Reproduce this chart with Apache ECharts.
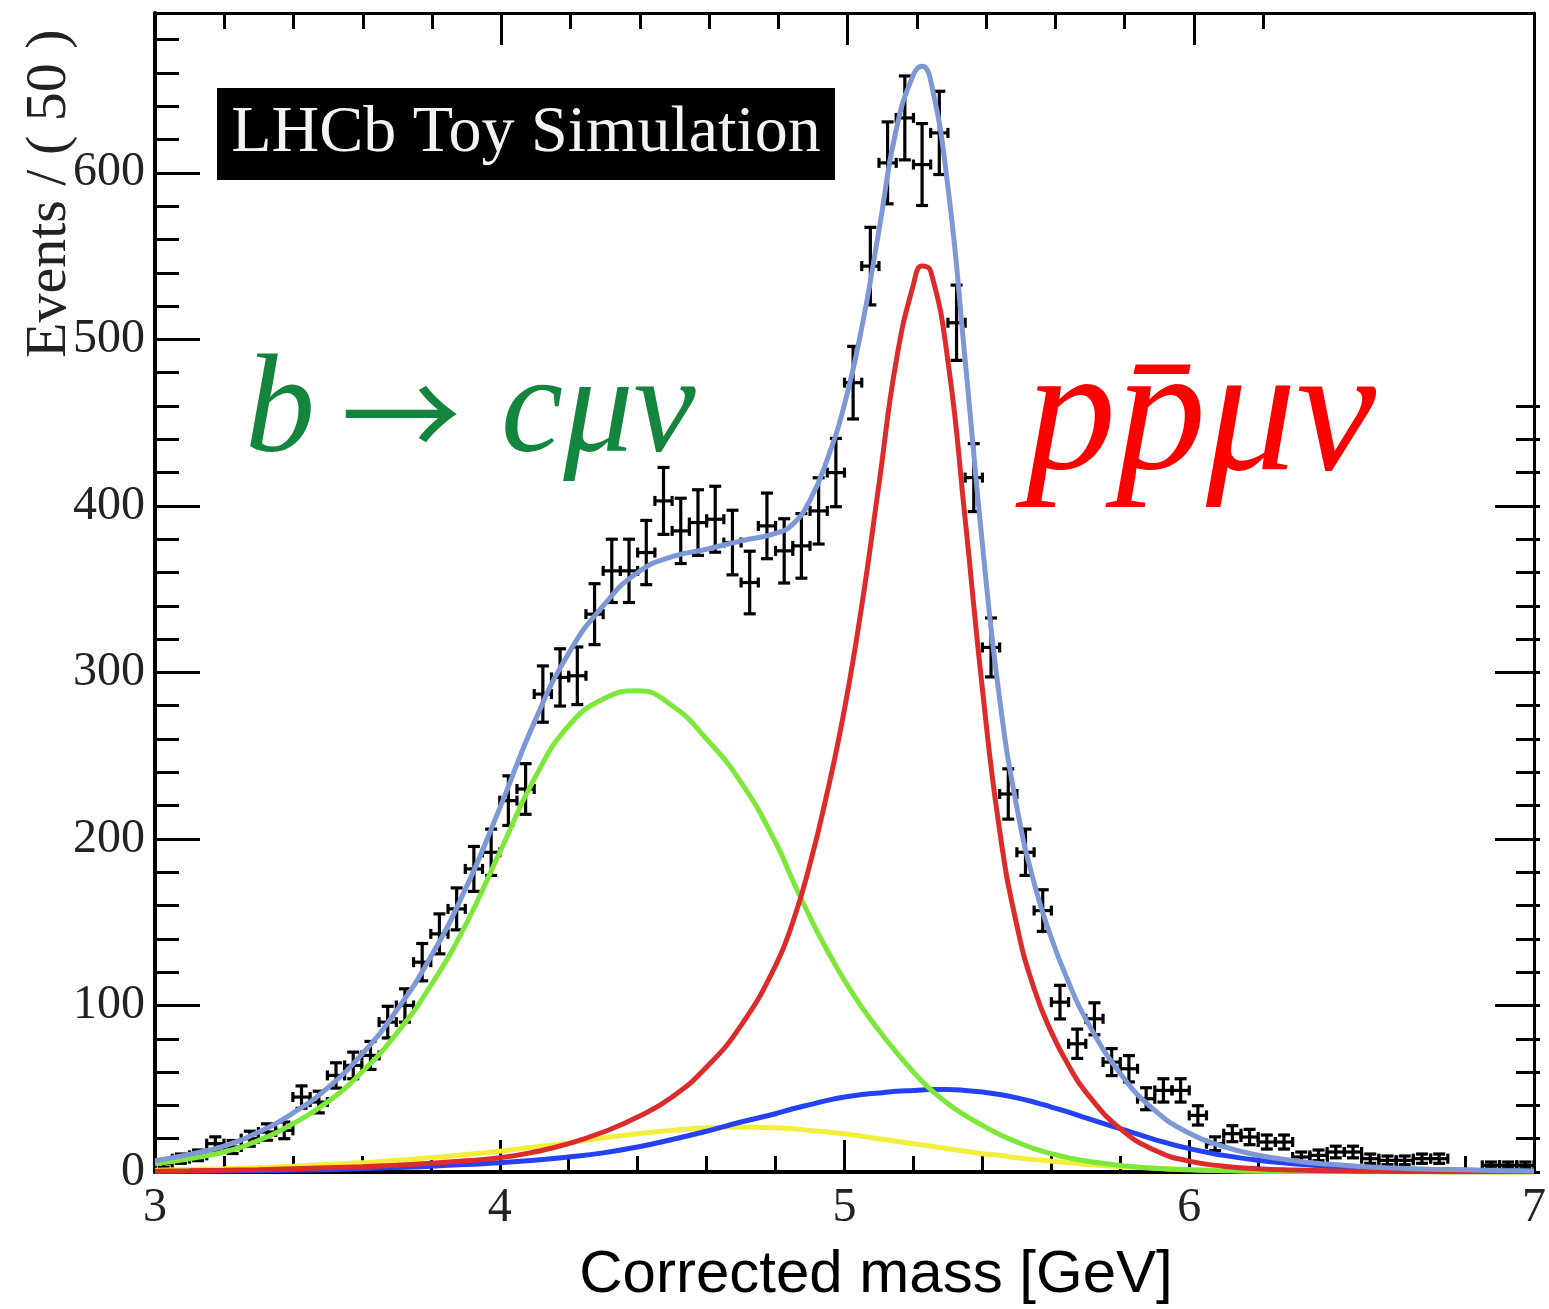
<!DOCTYPE html>
<html><head><meta charset="utf-8">
<script src="https://cdn.jsdelivr.net/npm/echarts@6.0.0/dist/echarts.min.js"></script>
<style>html,body{margin:0;padding:0;background:#fff;overflow:hidden}#c{width:1549px;height:1309px}</style>
</head><body><div id="c"></div>
<script>
// ---- histogram (80 bins of 50 MeV from 3 to 7 GeV) ----
const binLow = 3.0;
const binWidth = 0.05;
const counts = [
  5, 8, 10, 17, 15, 20, 24, 25, 45, 42,
  58, 64, 70, 90, 100, 126, 143, 158, 182, 192,
  223, 230, 287, 297, 298, 335, 361, 361, 372, 403,
  385, 390, 392, 378, 354, 388, 373, 376, 397, 420,
  474, 544, 606, 633, 605, 624, 510, 417, 315, 227,
  192, 157, 102, 77, 92, 66, 62, 44, 49, 49,
  34, 17, 23, 21, 18, 18, 9, 10, 12, 12,
  8, 7, 7, 8, 8, null, null, 4, 4, 4
];
const countErr = [
  2.2, 2.8, 3.2, 4.1, 3.9, 4.5, 4.9, 5.0, 6.7, 6.5,
  7.6, 8.0, 8.4, 9.5, 10.0, 11.2, 12.0, 12.6, 13.5, 13.9,
  14.9, 15.2, 16.9, 17.2, 17.3, 18.3, 19.0, 19.0, 19.3, 20.1,
  19.6, 19.7, 19.8, 19.4, 18.8, 19.7, 19.3, 19.4, 19.9, 20.5,
  21.8, 23.3, 24.6, 25.2, 24.6, 25.0, 22.6, 20.4, 17.7, 15.1,
  13.9, 12.5, 10.1, 8.8, 9.6, 8.1, 7.9, 6.6, 7.0, 7.0,
  5.8, 4.1, 4.8, 4.6, 4.2, 4.2, 3.0, 3.2, 3.5, 3.5,
  2.8, 2.6, 2.6, 2.8, 2.8, null, null, 2.0, 2.0, 2.0
];

// ---- fit curves, sampled at curveX ----
const curveX = [3.0,3.1,3.2,3.3,3.4,3.5,3.6,3.7,3.8,3.9,4.0,4.1,4.2,4.3,4.4,4.5,4.6,4.7,4.8,
  4.85,4.9,4.95,5.0,5.05,5.1,5.15,5.2,5.225,5.25,5.3,5.35,5.4,5.45,5.5,5.55,5.6,5.65,5.7,
  5.8,5.9,6.0,6.1,6.2,6.3,6.4,6.5,6.6,6.7,6.8,6.9,7.0];
const totalFit = [6.8,10.6,15.6,23.9,35.4,50.4,70.7,96.8,129.2,169.7,218.5,270,311.5,340,360,369.5,374,379,383.5,
  389,403.5,428,461,507,565.5,626,659,664,655.5,591.5,487.5,377,284,219,173.5,140.5,114,91.8,
  59.2,37,23.3,15.3,10.1,6.9,4.75,3.25,2.35,1.7,1.3,0.9,0.6];
const bToCMuNu = [5,8,12,19,29,42,60,83,112,148,192,236,268,284,289,280,260,234,198,
  175,153,133,115,99,85,72,60,54.5,49.5,41,34,28,22.5,18,14,11,8.5,6.6,
  3.9,2.3,1.3,0.8,0.5,0.3,0.2,0.1,0.1,0.05,0.05,0,0];
const pPbarMuNu = [0.5,0.7,1,1.4,1.9,2.5,3.2,4.1,5.2,6.7,8.5,12,17,24,33,45,63,88,124,
  150,185,228,278,340,413,487,533,544,541,487,392,290,205,148,110,84,64,48,
  26,13,6.5,3.5,2,1.2,0.8,0.5,0.35,0.25,0.2,0.15,0.1];
const bkgBlue = [0.3,0.4,0.6,0.8,1,1.4,2,2.7,3.5,4.5,5.5,7,9,11.5,15,19.5,24.5,30,35,
  38,40.5,43,45,46.5,47.5,48.5,49,49.3,49.5,49.5,49,48,46.5,44.5,42,39,36,32.5,
  26,19.5,14,10,7,5,3.5,2.5,1.8,1.3,1,0.7,0.5];
const bkgYellow = [1,1.5,2,2.7,3.5,4.5,5.5,7,8.5,10.5,12.5,15,17.5,20.5,23,25,26.5,27,26.5,
  26,25,24,23,21.5,20,18.5,17,16.3,15.5,14,12.5,11,10,8.5,7.5,6.5,5.5,4.7,
  3.3,2.2,1.5,1,0.6,0.4,0.25,0.15,0.1,0.1,0.05,0.05,0];

// ---- axes ----
const xMin = 3, xMax = 7, yMin = 0, yMax = 696;
const xMajor = [3, 4, 5, 6, 7];
const yMajor = [0, 100, 200, 300, 400, 500, 600];
// the top-right corner of the original frame was pasted over and shows no ticks:
const rightTicksMinorMax = 460, rightTicksMajorMax = 400;   // right-side ticks stop here
const topTicksMinorMax = 6.2, topTicksMajorMax = 6;         // top-side ticks stop here

const pointData = [];
counts.forEach((c, i) => {
  if (c === null) return;
  pointData.push([binLow + binWidth * (i + 0.5), c, countErr[i]]);
});
const pair = arr => curveX.map((x, i) => [x, arr[i]]);

function renderPoint(params, api) {
  const x = api.value(0), v = api.value(1), e = api.value(2);
  const c = api.coord([x, v]);
  const t = api.coord([x, v + e]);
  const b = api.coord([x, Math.max(v - e, 0)]);
  const l = api.coord([x - binWidth / 2, v]);
  const r = api.coord([x + binWidth / 2, v]);
  const st = { stroke: '#000', lineWidth: 3.2 };
  const cap = 6, hcap = 5;
  return { type: 'group', children: [
    { type: 'line', shape: { x1: c[0], y1: t[1], x2: c[0], y2: b[1] }, style: st },
    { type: 'line', shape: { x1: l[0], y1: c[1], x2: r[0], y2: c[1] }, style: st },
    { type: 'line', shape: { x1: c[0] - cap, y1: t[1], x2: c[0] + cap, y2: t[1] }, style: st },
    { type: 'line', shape: { x1: c[0] - cap, y1: b[1], x2: c[0] + cap, y2: b[1] }, style: st },
    { type: 'line', shape: { x1: l[0], y1: c[1] - hcap, x2: l[0], y2: c[1] + hcap }, style: st },
    { type: 'line', shape: { x1: r[0], y1: c[1] - hcap, x2: r[0], y2: c[1] + hcap }, style: st }
  ]};
}

// ---- layout (pixels) ----
const W = 1549, H = 1309, gL = 155, gR = 9, gT = 13, gB = 137;
const plotW = W - gL - gR, plotH = H - gT - gB;
const grids = [
  { left: gL, right: gR, top: gT, bottom: gB },
  { left: gL, right: gR, bottom: gB, height: plotH * rightTicksMinorMax / yMax },
  { left: gL, right: gR, bottom: gB, height: plotH * rightTicksMajorMax / yMax },
  { left: gL, width: plotW * (topTicksMinorMax - xMin) / (xMax - xMin), top: gT, bottom: gB },
  { left: gL, width: plotW * (topTicksMajorMax - xMin) / (xMax - xMin), top: gT, bottom: gB }
].map(g => Object.assign({ containLabel: false, show: false }, g));

const serif = '"Liberation Serif", "Times New Roman", serif';
const tickStyle = { color: '#000', width: 3 };
const noSplit = { show: false };
function ax(type, grid, pos, min, max, interval, tickLen, line, lw) {
  return { type: 'value', gridIndex: grid, position: pos, min, max, interval,
    axisLine: { show: line, onZero: false, lineStyle: { color: '#000', width: lw } },
    axisTick: { show: tickLen > 0, inside: true, length: tickLen, lineStyle: tickStyle },
    axisLabel: { show: false }, splitLine: noSplit };
}
const hidden = (grid, min, max) => ({ type: 'value', gridIndex: grid, min, max, show: false, splitLine: noSplit });

const xMainAxis = ax('x', 0, 'bottom', xMin, xMax, 1, 32, true, 4);
xMainAxis.axisLabel = { show: true, fontFamily: serif, fontSize: 48, color: '#222', margin: 12,
  formatter: v => (xMajor.indexOf(Math.round(v * 1000) / 1000) >= 0 ? String(v) : '') };
const yMainAxis = ax('y', 0, 'left', yMin, yMax, 100, 45, true, 4);
yMainAxis.axisLabel = { show: true, fontFamily: serif, fontSize: 48, color: '#222', margin: 10,
  formatter: v => (yMajor.indexOf(v) >= 0 ? String(v) : '') };

const lineSeries = (name, arr, color, z) => ({
  name, type: 'line', data: pair(arr), xAxisIndex: 0, yAxisIndex: 0,
  smooth: 0.5, showSymbol: false, symbol: 'none', clip: true, z,
  lineStyle: { color, width: 5 }
});

const chart = echarts.init(document.getElementById('c'), null, { renderer: 'canvas' });
chart.setOption({
  animation: false,
  backgroundColor: '#fff',
  grid: grids,
  xAxis: [
    xMainAxis,                                                  // 0
    ax('x', 0, 'bottom', xMin, xMax, 0.2, 16, false, 0),        // 1 bottom minor
    ax('x', 0, 'top', xMin, xMax, 1, 0, true, 3),               // 2 top frame line
    hidden(1, xMin, xMax),                                      // 3
    hidden(2, xMin, xMax),                                      // 4
    ax('x', 3, 'top', xMin, topTicksMinorMax, 0.2, 16, false, 0), // 5 top minor
    ax('x', 4, 'top', xMin, topTicksMajorMax, 1, 32, false, 0)    // 6 top major
  ],
  yAxis: [
    yMainAxis,                                                  // 0
    ax('y', 0, 'left', yMin, yMax, 20, 24, false, 0),           // 1 left minor
    ax('y', 0, 'right', yMin, yMax, 100, 0, true, 3),           // 2 right frame line
    ax('y', 1, 'right', yMin, rightTicksMinorMax, 20, 24, false, 0), // 3 right minor
    ax('y', 2, 'right', yMin, rightTicksMajorMax, 100, 45, false, 0), // 4 right major
    hidden(3, yMin, yMax),                                      // 5
    hidden(4, yMin, yMax)                                       // 6
  ],
  series: [
    { name: 'data', type: 'custom', renderItem: renderPoint, data: pointData,
      xAxisIndex: 0, yAxisIndex: 0, encode: { x: 0, y: 1 }, z: 2, clip: true },
    lineSeries('yellow', bkgYellow, '#f3ee3c', 3),
    lineSeries('blue', bkgBlue, '#2442f4', 4),
    lineSeries('green', bToCMuNu, '#7ee83a', 5),
    lineSeries('red', pPbarMuNu, '#dd2b2b', 6),
    lineSeries('total', totalFit, '#7e98d6', 7)
  ],
  graphic: [
    { type: 'text', x: 50, y: 358, rotation: Math.PI / 2, z: 10,
      style: { text: 'Events / ( 50 )', font: '58px ' + serif, fill: '#222',
               align: 'left', verticalAlign: 'middle', textAlign: 'left', textVerticalAlign: 'middle' } },
    { type: 'rect', shape: { x: 217, y: 88, width: 618, height: 92 }, style: { fill: '#000' }, z: 10 },
    { type: 'text', x: 526, y: 134, z: 11,
      style: { text: 'LHCb Toy Simulation', font: '66px ' + serif, fill: '#f4f4f4',
               align: 'center', verticalAlign: 'middle', textAlign: 'center', textVerticalAlign: 'middle' } },
    { type: 'text', x: 245, y: 414, z: 10,
      style: { text: '{b|b}{a|→}{c|cμν}', font: 'italic 140px ' + serif, fill: '#13853c',
               align: 'left', verticalAlign: 'middle', textAlign: 'left', textVerticalAlign: 'middle',
               rich: { b: { font: 'italic 140px ' + serif, fill: '#13853c', padding: [0, 26, 0, 0] },
                       a: { font: '120px "Noto Sans CJK SC"', fill: '#13853c', padding: [0, 40, 0, 0] },
                       c: { font: 'italic 140px ' + serif, fill: '#13853c' } } } },
    { type: 'text', x: 1026, y: 422, z: 10,
      style: { text: 'pp\u0304μν', font: 'italic 180px ' + serif, fill: '#ff0000',
               align: 'left', verticalAlign: 'middle', textAlign: 'left', textVerticalAlign: 'middle' } },
    { type: 'text', x: 876, y: 1275, z: 10,
      style: { text: 'Corrected mass [GeV]', font: '60px "Liberation Sans", Arial, sans-serif', fill: '#000',
               align: 'center', verticalAlign: 'middle', textAlign: 'center', textVerticalAlign: 'middle' } }
  ]
});
</script></body></html>
